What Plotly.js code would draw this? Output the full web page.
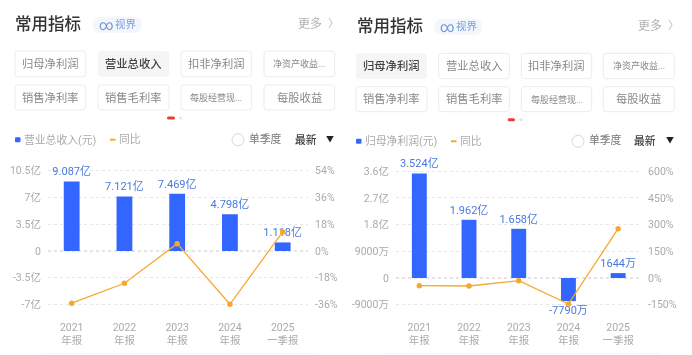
<!DOCTYPE html>
<html><head><meta charset="utf-8">
<script src="https://cdn.plot.ly/plotly-3.0.1.min.js"></script>
<style>html,body{margin:0;padding:0;background:#fff}#c{width:692px;height:355px;filter:blur(0.45px)}</style>
</head><body><div id="c"></div>
<script>
const FONT='Roboto, "Noto Sans CJK SC", sans-serif';
const periods=['2021<br>年报','2022<br>年报','2023<br>年报','2024<br>年报','2025<br>一季报'];
const revenue=[9.087,7.121,7.469,4.798,1.118];
const revenueLabels=['9.087亿','7.121亿','7.469亿','4.798亿','1.118亿'];
const revenueYoY=[-35.1,-21.7,4.9,-35.8,12.8];
const profit=[3.524,1.962,1.658,-0.779,0.1644];
const profitLabels=['3.524亿','1.962亿','1.658亿','-7790万','1644万'];
const profitYoY=[-43,-45,-15,-146,277];
const revTicks=[-7,-3.5,0,3.5,7,10.5];
const revTickText=['-7亿','-3.5亿','0','3.5亿','7亿','10.5亿'];
const revPctTicks=[-36,-18,0,18,36,54];
const revPctText=['-36%','-18%','0%','18%','36%','54%'];
const proTicks=[-0.9,0,0.9,1.8,2.7,3.6];
const proTickText=['-9000万','0','9000万','1.8亿','2.7亿','3.6亿'];
const proPctTicks=[-150,0,150,300,450,600];
const proPctText=['-150%','0%','150%','300%','450%','600%'];
const buttonNames=['归母净利润','营业总收入','扣非净利润','净资产收益...','销售净利率','销售毛利率','每股经营现...','每股收益'];

const W=692,H=355;
const px=x=>x/W, py=y=>1-y/H;
const BLUE='#3366ff',ORANGE='#f5a82e',LABEL='#4a78e0';
const shapes=[],ann=[];
function rect(x0,y0,x1,y1,fill,line,r){
  r=r||0;
  const X=v=>px(v).toFixed(5),Y=v=>py(v).toFixed(5);
  const p=r?`M ${px(x0+r)} ${py(y0)} L ${px(x1-r)} ${py(y0)} Q ${px(x1)} ${py(y0)} ${px(x1)} ${py(y0+r)} L ${px(x1)} ${py(y1-r)} Q ${px(x1)} ${py(y1)} ${px(x1-r)} ${py(y1)} L ${px(x0+r)} ${py(y1)} Q ${px(x0)} ${py(y1)} ${px(x0)} ${py(y1-r)} L ${px(x0)} ${py(y0+r)} Q ${px(x0)} ${py(y0)} ${px(x0+r)} ${py(y0)} Z`
         :`M ${X(x0)} ${Y(y0)} L ${X(x1)} ${Y(y0)} L ${X(x1)} ${Y(y1)} L ${X(x0)} ${Y(y1)} Z`;
  shapes.push({type:'path',xref:'paper',yref:'paper',path:p,fillcolor:fill,line:{color:line||'rgba(0,0,0,0)',width:line?1:0},layer:'below'});
}
function txt(x,y,t,size,color,anchor,weight){
  ann.push({xref:'paper',yref:'paper',x:px(x),y:py(y),text:t,showarrow:false,xanchor:anchor||'left',yanchor:'middle',
    font:{family:FONT,size:size,color:color,weight:weight||400},borderpad:0,borderwidth:0});
}
function header(o){
  txt(o.titleX,o.titleY,'常用指标',16.5,'#333','left',500);
  rect(o.pill[0],o.titleY-8,o.pill[1],o.titleY+8,'#f3f6fb',null,8);
  txt(o.pill[0]+6,o.titleY,'∞',14,'#6c96e0');
  txt(o.pill[0]+22,o.titleY,'视界',10.5,'#7ba0e4');
  txt(o.more,o.titleY-1,'更多',12,'#b0b0b0');
  txt(o.chev+1.5,o.titleY-1,'〉',11,'#b8b8b8','center');
  buttonNames.forEach((n,i)=>{
    const c=i%4,r=Math.floor(i/4);
    const [x0,x1]=o.cols[c],[y0,y1]=o.rows[r],on=i===o.active;
    rect(x0,y0,x1,y1,on?'#f5f5f5':'#fff',on?null:'#ececec',3);
    const small=n.endsWith('...');
    txt((x0+x1)/2,(y0+y1)/2,n,small?9:11.3,on?'#444':'#888','center',on?500:400);
  });
  rect(o.dotR[0],o.dotY-1.5,o.dotR[1],o.dotY+1.5,'#ee3a30',null,1.5);
  rect(o.dotG[0],o.dotY-1.5,o.dotG[1],o.dotY+1.5,'#e6e6e6',null,1.5);
  const y=o.legY;
  rect(o.sq,y-2.5,o.sq+5.5,y+2.5,BLUE,null,1);
  txt(o.sq+9,y,o.name,10.8,'#aaa');
  rect(o.dash,y-1,o.dash+5.5,y+1,ORANGE);
  txt(o.dash+9,y,'同比',10.8,'#aaa');
  shapes.push({type:'circle',xref:'paper',yref:'paper',x0:px(o.circ-6),x1:px(o.circ+6),y0:py(y+6),y1:py(y-6),line:{color:'#d8d8d8',width:1},fillcolor:'#fff'});
  txt(o.circ+11,y-1,'单季度',10.8,'#777');
  txt(o.newest,y,'最新',10.8,'#444','left',500);
  txt(o.tri,y-0.5,'▼',8,'#222','center');
  rect(o.foot[0],353,o.foot[1],355,'#f8fafd',null,0);
}
header({titleX:15,titleY:24.7,pill:[92.7,141.7],more:298,chev:332,active:1,foot:[42,318],
  cols:[[15,85.7],[98,169],[181,251.7],[264,334.7]],rows:[[51,76.7],[85,110]],
  dotR:[167,175],dotG:[179,182],dotY:118,legY:139.7,sq:15,name:'营业总收入(元)',dash:110,circ:238,newest:295,tri:330});
header({titleX:357,titleY:26.7,pill:[434.3,482],more:638,chev:671.7,active:0,foot:[384,660],
  cols:[[356,427],[438.7,509.3],[521.3,591.7],[603.3,674.3]],rows:[[53.3,78.7],[86.7,111.7]],
  dotR:[507.7,515],dotG:[519,522.7],dotY:119.7,legY:141.3,sq:356,name:'归母净利润(元)',dash:451,circ:578,newest:633.7,tri:669.7});

shapes.push({type:'line',xref:'x',yref:'y',x0:-0.449,x1:4.48,y0:0,y1:0,line:{color:'#c4c4c4',width:1,dash:'dot'},layer:'below'});
shapes.push({type:'line',xref:'x2',yref:'y3',x0:-0.469,x1:4.46,y0:0,y1:0,line:{color:'#c4c4c4',width:1,dash:'dot'},layer:'below'});

function bar(y,labels,xa,ya){return {type:'bar',x:periods,y:y,text:labels,textposition:'outside',constraintext:'none',cliponaxis:false,
  textfont:{family:FONT,size:11,color:LABEL},marker:{color:BLUE},width:0.3,xaxis:xa,yaxis:ya,hoverinfo:'skip',showlegend:false};}
function line(y,xa,ya){return {type:'scatter',mode:'lines+markers',x:periods,y:y,line:{color:ORANGE,width:1.3},
  marker:{color:ORANGE,size:5.5},xaxis:xa,yaxis:ya,cliponaxis:false,hoverinfo:'skip',showlegend:false};}
const tf={family:FONT,size:10.5,color:'#aaa'};
const yDom=[py(312),py(165)];
function xAxis(dom,rng,anchor){return {domain:dom,range:rng,type:'category',anchor:anchor,tickfont:tf,ticks:'outside',ticklen:5,tickcolor:'rgba(0,0,0,0)',showgrid:false,showline:false,zeroline:false,automargin:false,tickangle:0};}
function yL(rng,tv,tt){return {domain:yDom,range:rng,tickvals:tv,ticktext:tt,tickfont:tf,showgrid:true,gridcolor:'#e6e6e6',griddash:'dot',gridwidth:1,zeroline:false,showline:false,ticks:'outside',ticklen:4,tickcolor:'rgba(0,0,0,0)',automargin:false};}
function yR(rng,tv,tt,over,anchor){return {domain:yDom,range:rng,tickvals:tv,ticktext:tt,tickfont:tf,showgrid:false,zeroline:false,showline:false,side:'right',overlaying:over,anchor:anchor,ticks:'outside',ticklen:4,tickcolor:'rgba(0,0,0,0)',automargin:false};}

const data=[bar(revenue,revenueLabels,'x','y'),line(revenueYoY,'x','y2'),bar(profit,profitLabels,'x2','y3'),line(profitYoY,'x2','y4')];
const layout={width:W,height:H,margin:{l:0,r:0,t:0,b:0},paper_bgcolor:'#fff',plot_bgcolor:'rgba(0,0,0,0)',
  font:{family:FONT},showlegend:false,shapes:shapes,annotations:ann,
  xaxis:xAxis([px(48),px(308)],[-0.449,4.48],'y'),
  xaxis2:xAxis([px(396),px(641)],[-0.469,4.46],'y3'),
  yaxis:yL([-7.97,11.23],revTicks,revTickText),
  yaxis2:yR([-40.99,57.76],revPctTicks,revPctText,'y','x'),
  yaxis3:yL([-1.146,3.809],proTicks,proTickText),
  yaxis4:yR([-191,634.8],proPctTicks,proPctText,'y3','x2')};
layout.yaxis.anchor='x';layout.yaxis3.anchor='x2';
Plotly.newPlot('c',data,layout,{displayModeBar:false,staticPlot:true});
</script></body></html>
